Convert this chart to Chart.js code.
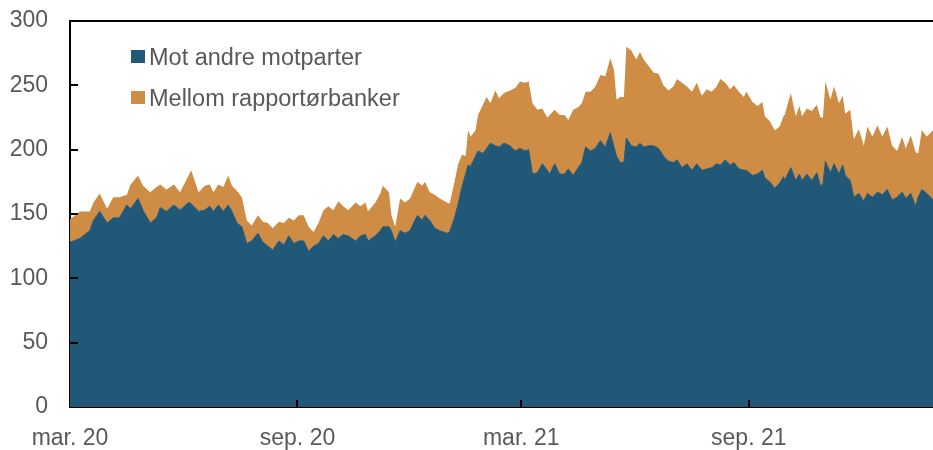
<!DOCTYPE html>
<html>
<head>
<meta charset="utf-8">
<script src="https://cdn.jsdelivr.net/npm/chart.js@4/dist/chart.umd.min.js"></script>
<style>
  html, body { margin: 0; padding: 0; background: #ffffff; }
  #wrap { width: 933px; height: 450px; }
</style>
</head>
<body>
<div id="wrap"><canvas id="c" width="933" height="450"></canvas></div>
<script>
// Days since 1 March 2020
const days = [
  0,8,16,19,24,30,35,40,46,49,
  55,59,65,70,73,78,84,89,96,98,
  104,109,113,116,120,124,128,131,135,139,
  143,147,152,156,160,164,169,173,177,181,
  185,189,193,197,201,205,209,213,217,221,
  225,231,235,239,241,247,251,253,258,260,
  263,267,271,275,281,285,287,291,295,299,
  305,307,311,314,317,320,322,324,328,330,
  334,337,340,344,347,351,356,360,364,368,
  371,374,378,382,386,388,392,396,400,403,
  407,411,414,417,421,425,429,433,437,440,
  442,445,448,450,454,458,461,464,468,472,
  476,480,484,488,491,495,499,503,507,511,
  515,519,523,526,530,534,537,541,545,547,
  552,556,560,562,566,570,574,577,578,583,
  587,590,592,596,600,604,607,609,611,615,
  618,622,625,627,631,634,638,642,645,649,
  653,657,661,665,669,673,676,680,684,686,
  689,693,698
];
const motAndre = [
  128,131,137,145,152,143,147,147,157,154,
  162,153,143,147,155,152,157,153,159,158,
  152,153,156,152,157,152,157,152,143,140,
  127,129,135,128,125,122,129,126,133,127,
  129,129,121,125,127,133,129,134,131,134,
  133,129,133,134,129,133,137,140,140,137,
  128,137,135,137,149,145,149,145,139,137,
  135,136,147,158,171,181,188,187,195,199,
  197,201,205,203,202,205,203,199,201,199,
  200,181,182,189,184,181,189,181,181,185,
  180,186,190,202,199,201,207,202,213,202,
  195,190,190,209,203,202,205,202,203,203,
  201,195,191,190,192,186,189,184,189,184,
  185,186,189,188,192,188,190,185,184,184,
  180,181,184,178,175,170,174,179,176,186,
  176,181,176,181,176,182,172,173,191,182,
  189,181,188,180,176,163,166,160,166,163,
  167,165,169,161,163,167,162,166,156,163,
  169,166,161
];
const mellom = [
  18,21,15,14,14,11,16,16,8,19,
  18,19,24,24,18,17,16,14,21,26,
  15,19,17,15,16,19,23,20,25,23,
  18,12,14,16,18,17,15,17,14,18,
  20,20,19,11,16,20,27,19,29,22,
  20,30,23,25,23,26,29,32,27,12,
  12,25,24,25,26,27,26,22,26,25,
  24,22,28,31,25,14,27,23,20,28,
  38,40,31,43,38,39,43,49,52,53,
  53,55,49,43,41,46,42,46,46,38,
  51,47,46,43,46,48,51,55,58,60,
  44,51,51,71,74,68,71,68,62,57,
  58,55,55,59,63,66,60,61,63,58,
  62,59,60,67,60,59,60,60,57,61,
  57,53,53,48,47,45,44,47,51,58,
  50,53,50,51,54,53,53,52,62,57,
  60,55,54,48,55,45,50,43,52,47,
  52,45,49,42,36,43,39,45,42,34,
  46,44,54
];
const seriesLabels = ['Mot andre motparter', 'Mellom rapportørbanker'];
const tickDays = [0, 184, 365, 549];
const tickLabels = ['mar. 20', 'sep. 20', 'mar. 21', 'sep. 21'];

const BLUE = '#225877';
const ORANGE = '#CE8C45';
const TEXT = '#595959';
const FONT = '"Liberation Sans", Arial, sans-serif';

const decorPlugin = {
  id: 'decor',
  afterDatasetsDraw(chart) {
    const ctx = chart.ctx;
    const a = chart.chartArea;
    const xs = chart.scales.x, ys = chart.scales.y;
    ctx.save();
    ctx.strokeStyle = '#000';
    ctx.lineWidth = 2;
    // top frame line
    ctx.beginPath();
    ctx.moveTo(a.left - 1, a.top);
    ctx.lineTo(a.right, a.top);
    ctx.stroke();
    // inward y ticks
    ys.ticks.forEach(t => {
      if (t.value <= 0) return;
      const y = Math.round(ys.getPixelForValue(t.value));
      ctx.beginPath();
      ctx.moveTo(a.left, y);
      ctx.lineTo(a.left + 8, y);
      ctx.stroke();
    });
    // inward x ticks
    xs.ticks.forEach(t => {
      if (t.value <= 0) return;
      const x = Math.round(xs.getPixelForValue(t.value));
      ctx.beginPath();
      ctx.moveTo(x, a.bottom);
      ctx.lineTo(x, a.bottom - 7);
      ctx.stroke();
    });
    ctx.restore();
  },
  afterDraw(chart) {
    const ctx = chart.ctx;
    const a = chart.chartArea;
    ctx.save();
    ctx.font = '23.5px ' + FONT;
    ctx.textBaseline = 'alphabetic';
    ctx.textAlign = 'left';
    const rows = [56.5, 97.5];
    chart.data.datasets.forEach((ds, i) => {
      const cy = rows[i];
      ctx.fillStyle = ds.backgroundColor;
      ctx.fillRect(a.left + 61, cy - 6.5, 14, 13);
      ctx.fillStyle = TEXT;
      ctx.fillText(ds.label, a.left + 79, cy + 8);
    });
    ctx.restore();
  }
};

new Chart(document.getElementById('c'), {
  type: 'line',
  data: {
    datasets: [
      {
        label: seriesLabels[0],
        data: days.map((d, i) => ({ x: d, y: motAndre[i] })),
        backgroundColor: BLUE,
        borderColor: BLUE,
        borderWidth: 1,
        pointRadius: 0,
        fill: 'origin',
        tension: 0
      },
      {
        label: seriesLabels[1],
        data: days.map((d, i) => ({ x: d, y: mellom[i] })),
        backgroundColor: ORANGE,
        borderColor: ORANGE,
        borderWidth: 0,
        pointRadius: 0,
        fill: '-1',
        tension: 0
      }
    ]
  },
  options: {
    responsive: false,
    animation: false,
    devicePixelRatio: 1,
    layout: { padding: { top: 21, right: 0, bottom: 0, left: 0 } },
    plugins: {
      legend: { display: false },
      tooltip: { enabled: false }
    },
    scales: {
      x: {
        type: 'linear',
        min: 0,
        max: 698,
        grid: { display: false, drawTicks: false },
        border: { display: true, color: '#000', width: 2 },
        afterBuildTicks: (scale) => { scale.ticks = tickDays.map(v => ({ value: v })); },
        afterFit: (scale) => { scale.height = 43; scale.paddingLeft = 0; scale.paddingRight = 0; },
        ticks: {
          autoSkip: false,
          maxRotation: 0,
          padding: 18,
          color: TEXT,
          font: { family: FONT, size: 23 },
          callback: (v) => { const i = tickDays.indexOf(v); return i >= 0 ? tickLabels[i] : ''; }
        }
      },
      y: {
        stacked: true,
        min: 0,
        max: 300,
        grid: { display: false, drawTicks: false },
        border: { display: true, color: '#000', width: 2 },
        afterFit: (scale) => { scale.width = 70; scale.paddingTop = 0; scale.paddingBottom = 0; },
        ticks: {
          stepSize: 50,
          padding: 22,
          color: TEXT,
          font: { family: FONT, size: 23 }
        }
      }
    }
  },
  plugins: [decorPlugin]
});
</script>
</body>
</html>
